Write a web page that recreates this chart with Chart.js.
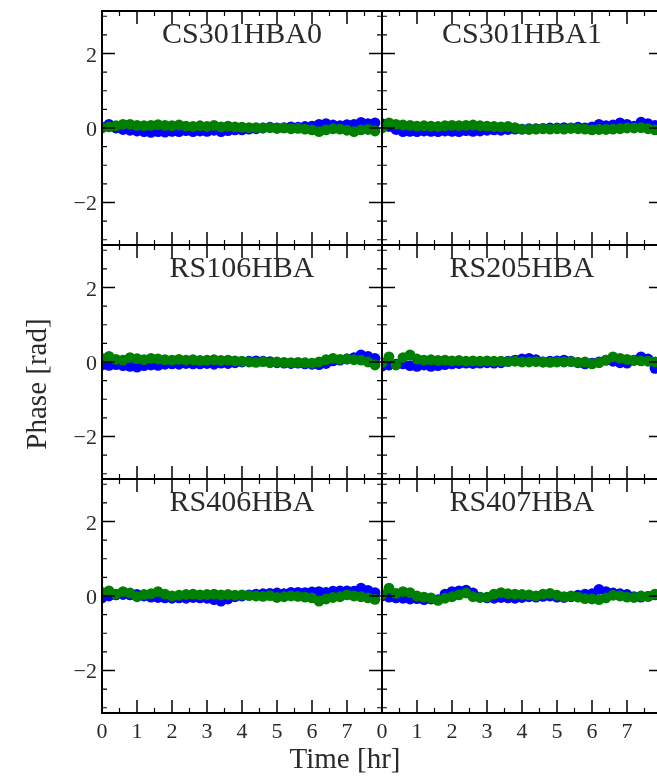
<!DOCTYPE html>
<html>
<head>
<meta charset="utf-8">
<title>Phase vs time</title>
<script src="https://cdn.jsdelivr.net/npm/chart.js@4.4.1/dist/chart.umd.min.js"></script>
<style>
  html, body { margin: 0; padding: 0; background: #fff; overflow: hidden; }
  #fig { position: relative; width: 657px; height: 777px; overflow: hidden; }
  #fig canvas { position: absolute; left: 0; top: 0; }
</style>
</head>
<body>
<div id="fig"></div>
<script>
// time samples (hr)
const timeHr = [0, 0.2, 0.4, 0.6, 0.8, 1.0, 1.2, 1.4, 1.6, 1.8,
    2.0, 2.2, 2.4, 2.6, 2.8, 3.0, 3.2, 3.4, 3.6, 3.8,
    4.0, 4.2, 4.4, 4.6, 4.8, 5.0, 5.2, 5.4, 5.6, 5.8,
    6.0, 6.2, 6.4, 6.6, 6.8, 7.0, 7.2, 7.4, 7.6, 7.8];

const stations = ['CS301HBA0', 'CS301HBA1', 'RS106HBA', 'RS205HBA', 'RS406HBA', 'RS407HBA'];

// phase (rad), blue series
const blueCS301HBA0 = [0.02, 0.1, 0.0, -0.04, -0.06, -0.08, -0.1, -0.12, -0.1, -0.11,
    -0.09, -0.1, -0.07, -0.1, -0.08, -0.09, -0.06, -0.1, -0.07, -0.05,
    -0.05, -0.03, -0.02, 0.0, 0.02, 0.0, 0.01, 0.03, 0.02, 0.04,
    0.05, 0.1, 0.12, 0.08, 0.06, 0.09, 0.1, 0.15, 0.12, 0.14];
const blueCS301HBA1 = [0.12, 0.04, -0.04, -0.1, -0.09, -0.1, -0.08, -0.09, -0.1, -0.08,
    -0.09, -0.1, -0.07, -0.09, -0.08, -0.06, -0.05, -0.06, -0.04, -0.03,
    -0.03, -0.02, -0.02, -0.01, 0.0, 0.0, 0.01, 0.0, 0.02, 0.0,
    0.03, 0.1, 0.06, 0.08, 0.14, 0.1, 0.05, 0.16, 0.12, 0.07];
const blueRS106HBA = [-0.08, -0.09, -0.07, -0.1, -0.12, -0.14, -0.1, -0.08, -0.09, -0.06,
    -0.05, -0.06, -0.04, -0.05, -0.05, -0.04, -0.06, -0.03, -0.04, -0.02,
    0.0, 0.02, 0.03, 0.02, 0.01, -0.02, -0.03, -0.04, -0.03, -0.05,
    -0.06, -0.07, -0.04, 0.03, 0.05, 0.08, 0.12, 0.19, 0.15, 0.1];
const blueRS205HBA = [-0.11, -0.08, -0.06, -0.05, -0.1, -0.12, -0.08, -0.12, -0.1, -0.07,
    -0.05, -0.04, -0.03, -0.04, -0.03, -0.02, -0.03, -0.02, 0.02, 0.05,
    0.08, 0.1, 0.06, 0.0, 0.02, 0.03, 0.05, 0.02, -0.02, -0.05,
    -0.03, 0.0, 0.05, 0.02, -0.02, -0.03, 0.05, 0.14, 0.08, -0.17];
const blueRS406HBA = [-0.05, 0.0, 0.03, 0.04, 0.03, 0.04, 0.0, -0.03, -0.04, -0.05,
    -0.06, -0.05, -0.06, -0.04, -0.05, -0.06, -0.1, -0.14, -0.08, -0.02,
    0.0, 0.03, 0.05, 0.06, 0.07, 0.08, 0.06, 0.1, 0.1, 0.09,
    0.11, 0.12, 0.1, 0.13, 0.14, 0.14, 0.13, 0.21, 0.15, 0.09];
const blueRS407HBA = [0.0, -0.03, -0.05, -0.06, -0.08, -0.07, -0.1, -0.08, -0.1, 0.05,
    0.12, 0.14, 0.16, 0.08, -0.03, -0.05, -0.06, -0.04, -0.05, -0.06,
    -0.04, -0.02, -0.03, -0.01, 0.0, -0.03, -0.04, -0.02, 0.02, 0.05,
    0.06, 0.18, 0.12, 0.08, 0.06, 0.04, -0.02, -0.03, -0.01, 0.03];

// phase (rad), green series
const greenCS301HBA0 = [0.0, 0.03, 0.06, 0.1, 0.1, 0.07, 0.06, 0.07, 0.09, 0.07,
    0.06, 0.08, 0.05, 0.04, 0.06, 0.04, 0.07, 0.03, 0.05, 0.03,
    0.02, 0.01, 0.01, 0.0, 0.01, -0.01, 0.0, -0.02, -0.01, -0.03,
    -0.05, -0.1, -0.05, -0.02, -0.03, -0.06, -0.1, -0.05, -0.04, -0.08];
const greenCS301HBA1 = [0.0, 0.14, 0.1, 0.08, 0.07, 0.05, 0.06, 0.05, 0.04, 0.06,
    0.07, 0.06, 0.07, 0.08, 0.06, 0.05, 0.04, 0.03, 0.04, 0.01,
    -0.03, -0.04, -0.03, -0.02, -0.03, -0.02, -0.03, -0.01, -0.02, -0.03,
    -0.05, -0.04, -0.04, -0.03, -0.02, 0.0, 0.0, 0.01, -0.02, -0.05];
const greenRS106HBA = [0.1, 0.15, 0.07, 0.05, 0.12, 0.09, 0.06, 0.1, 0.08, 0.06,
    0.05, 0.07, 0.05, 0.06, 0.04, 0.05, 0.06, 0.04, 0.05, 0.03,
    0.02, 0.0, -0.01, 0.01, -0.02, 0.0, -0.01, -0.02, -0.01, -0.02,
    -0.03, 0.0, 0.06, 0.1, 0.07, 0.08, 0.06, 0.05, 0.0, -0.08];
const greenRS205HBA = [-0.02, 0.14, -0.08, 0.12, 0.19, 0.08, 0.05, 0.06, 0.04, 0.05,
    0.03, 0.04, 0.02, 0.03, 0.02, 0.03, 0.02, 0.02, 0.01, 0.02,
    0.0, 0.0, 0.01, 0.0, -0.01, 0.0, 0.0, 0.01, -0.01, 0.0,
    -0.05, -0.02, 0.05, 0.14, 0.1, 0.07, 0.04, 0.03, 0.02, 0.0];
const greenRS406HBA = [0.1, 0.14, 0.05, 0.12, 0.08, -0.02, 0.04, 0.06, 0.12, 0.05,
    0.0, 0.02, 0.04, 0.05, 0.03, 0.04, 0.05, 0.03, 0.04, 0.02,
    0.03, 0.01, 0.0, -0.01, 0.01, -0.04, -0.02, 0.0, -0.01, -0.03,
    -0.05, -0.14, -0.08, -0.04, -0.02, 0.03, 0.0, -0.02, -0.05, -0.09];
const greenRS407HBA = [0.04, 0.21, 0.07, 0.12, 0.09, 0.0, -0.03, -0.05, -0.12, -0.06,
    -0.02, 0.03, 0.08, -0.02, -0.04, -0.03, 0.05, 0.09, 0.06, 0.05,
    0.04, 0.03, 0.0, 0.05, 0.07, 0.02, -0.02, 0.0, -0.03, -0.07,
    -0.08, -0.1, -0.05, 0.02, 0.0, -0.03, -0.04, 0.0, -0.01, 0.05];

const blueSeries = [blueCS301HBA0, blueCS301HBA1, blueRS106HBA, blueRS205HBA, blueRS406HBA, blueRS407HBA];
const greenSeries = [greenCS301HBA0, greenCS301HBA1, greenRS106HBA, greenRS205HBA, greenRS406HBA, greenRS407HBA];

// ticks
const xMajorTicks = [0, 1, 2, 3, 4, 5, 6, 7, 8];
const xMinorTicks = [0.5, 1.5, 2.5, 3.5, 4.5, 5.5, 6.5, 7.5];
const xTickLabels = ['0', '1', '2', '3', '4', '5', '6', '7', ''];
const yMajorTicks = [-2, 0, 2];
const yMinorTicks = [-3, -2.5, -1.5, -1, -0.5, 0.5, 1, 1.5, 2.5, 3];
const yTickLabels = ['\u22122', '0', '2'];

const SERIF = "'Liberation Serif', 'Times New Roman', serif";
const TEXT = '#2a2a2a';
const W = 670, H = 777;
const colLeft = [102, 382];
const rowTop = [11, 245, 479];
const panelW = 280, panelH = 234;

const panelFrame = {
    id: 'panelFrame',
    afterDraw(chart, args, opts) {
        const ctx = chart.ctx;
        const a = chart.chartArea;
        const sx = chart.scales.x, sy = chart.scales.y;
        ctx.save();
        ctx.strokeStyle = '#000';

        // inward ticks on all four sides
        const tick = (xs, ys, len, lw) => {
            ctx.lineWidth = lw;
            ctx.beginPath();
            xs.forEach(v => {
                const px = sx.getPixelForValue(v);
                ctx.moveTo(px, a.bottom); ctx.lineTo(px, a.bottom - len);
                ctx.moveTo(px, a.top); ctx.lineTo(px, a.top + len);
            });
            ys.forEach(v => {
                const py = sy.getPixelForValue(v);
                ctx.moveTo(a.left, py); ctx.lineTo(a.left + len, py);
                ctx.moveTo(a.right, py); ctx.lineTo(a.right - len, py);
            });
            ctx.stroke();
        };
        tick(xMinorTicks, yMinorTicks, 5, 1.2);
        tick(xMajorTicks, yMajorTicks, 13, 1.5);

        ctx.lineWidth = 2;
        ctx.strokeRect(a.left, a.top, a.right - a.left, a.bottom - a.top);

        ctx.fillStyle = TEXT;
        // panel title
        ctx.font = '30px ' + SERIF;
        ctx.textAlign = 'center';
        ctx.textBaseline = 'alphabetic';
        ctx.fillText(opts.title, (a.left + a.right) / 2, a.top + 32);

        ctx.font = '22px ' + SERIF;
        if (opts.xLabels) {
            ctx.textAlign = 'center';
            xMajorTicks.forEach((v, i) => {
                ctx.fillText(xTickLabels[i], sx.getPixelForValue(v), a.bottom + 25);
            });
        }
        if (opts.yLabels) {
            ctx.textAlign = 'right';
            yMajorTicks.forEach((v, i) => {
                ctx.fillText(yTickLabels[i], a.left - 5, sy.getPixelForValue(v) + 8);
            });
        }

        ctx.font = '29px ' + SERIF;
        if (opts.xTitle) {
            ctx.textAlign = 'center';
            ctx.fillText(opts.xTitle, 345, 768);
        }
        if (opts.yTitle) {
            ctx.translate(38, 384);
            ctx.rotate(-Math.PI / 2);
            ctx.textAlign = 'center';
            ctx.textBaseline = 'middle';
            ctx.fillText(opts.yTitle, 0, 0);
        }
        ctx.restore();
    }
};

const fig = document.getElementById('fig');

stations.forEach((name, i) => {
    const row = Math.floor(i / 2), col = i % 2;
    const left = colLeft[col], top = rowTop[row];
    const canvas = document.createElement('canvas');
    canvas.width = W;
    canvas.height = H;
    canvas.style.width = W + 'px';
    canvas.style.height = H + 'px';
    fig.appendChild(canvas);

    const pts = vals => timeHr.map((t, k) => ({ x: t, y: vals[k] }));

    new Chart(canvas, {
        type: 'scatter',
        data: {
            datasets: [{
                label: 'green',
                data: pts(greenSeries[i]),
                backgroundColor: '#008000',
                borderWidth: 0,
                pointRadius: 5.4,
                order: 1,
                clip: 0,
            }, {
                label: 'blue',
                data: pts(blueSeries[i]),
                backgroundColor: '#0000ff',
                borderWidth: 0,
                pointRadius: 5.4,
                order: 2,
                clip: 0,
            }]
        },
        options: {
            responsive: false,
            animation: false,
            events: [],
            layout: {
                padding: { left: left, top: top, right: W - left - panelW, bottom: H - top - panelH }
            },
            plugins: {
                legend: { display: false },
                tooltip: { enabled: false },
                panelFrame: {
                    title: name,
                    xLabels: row === 2,
                    yLabels: col === 0,
                    xTitle: (row === 2 && col === 0) ? 'Time [hr]' : null,
                    yTitle: (row === 1 && col === 0) ? 'Phase [rad]' : null,
                }
            },
            scales: {
                x: { type: 'linear', min: 0, max: 8, display: false },
                y: { type: 'linear', min: -Math.PI, max: Math.PI, display: false }
            }
        },
        plugins: [panelFrame]
    });
});
</script>
</body>
</html>
